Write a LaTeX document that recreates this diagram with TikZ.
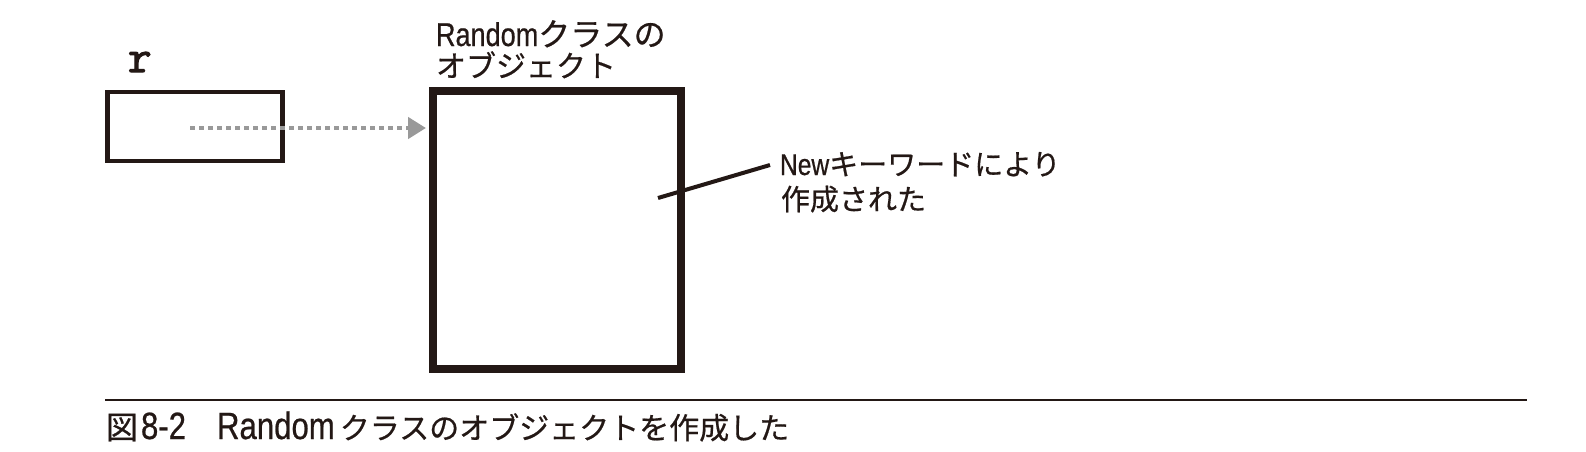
\documentclass[tikz,border=0pt]{standalone}
\usepackage{fontspec}
\setmainfont{Liberation Sans}
\newfontfamily\latn[FakeStretch=0.82,FakeBold=0.6]{Liberation Sans}
\newfontfamily\jpn[FakeBold=0.6]{Noto Sans CJK JP}
\newfontfamily\monof[FakeBold=2.5]{Latin Modern Mono}
\usetikzlibrary{arrows.meta}
\definecolor{ink}{HTML}{231815}
\definecolor{dotgray}{HTML}{999999}
\begin{document}
\begin{tikzpicture}[x=1pt,y=-1pt,
  varbox/.style={draw=ink, line width=4.5pt, minimum width=175pt, minimum height=69pt, inner sep=0pt, outer sep=0pt},
  objbox/.style={draw=ink, line width=8pt, minimum width=248pt, minimum height=277.5pt, inner sep=0pt, outer sep=0pt},
  lbl/.style={anchor=base west, inner sep=0pt, outer sep=0pt, text=ink},
  ref/.style={draw=dotgray, line width=4.5pt, dash pattern=on 4.5pt off 4.5pt, -{Triangle[length=18pt,width=21pt,fill=dotgray]}},
  callout/.style={draw=ink, line width=4pt},
  rulestyle/.style={draw=ink, line width=1.3pt}]
\useasboundingbox (0,0) rectangle (1586,451);
% variable box
\node[varbox] (var) at (195,126.25) {};
\node[lbl] (rlabel) at (128,72) {\monof\fontsize{46pt}{46pt}\selectfont r};
% object box
\node[objbox] (obj) at (557,229.75) {};
\node[lbl] (objl1) at (436,46) {\fontsize{33pt}{33pt}\selectfont{\latn Random}{\jpn\fontsize{32pt}{32pt}\selectfont クラスの}};
\node[lbl] (objl2) at (436,77) {\fontsize{30pt}{30pt}\selectfont\jpn オブジェクト};
% reference arrow
\coordinate (dstart) at (190,128);
\draw[ref, shorten >=7pt] (dstart) -- (obj.west |- dstart);
% callout
\coordinate (cin) at (658,198);
\coordinate (cout) at (770,165);
\draw[callout] (cin) -- (cout);
\node[lbl] (note1) at (780,175) {\fontsize{30pt}{30pt}\selectfont{\latn New}{\jpn\fontsize{29pt}{29pt}\selectfont キーワードにより}};
\node[lbl] (note2) at (781,210) {\fontsize{29pt}{29pt}\selectfont\jpn 作成された};
% rule and caption
\coordinate (rulel) at (105,400);
\coordinate (ruler) at (1527,400);
\draw[rulestyle] (rulel) -- (ruler);
\node[lbl] (caption) at (106,439) {\fontsize{38pt}{38pt}\selectfont{\jpn\fontsize{32pt}{32pt}\selectfont 図}\hspace{3pt}{\latn 8-2}{\jpn\fontsize{31pt}{31pt}\selectfont 　}{\latn Random}\hspace{5pt}{\jpn\fontsize{30pt}{30pt}\selectfont クラスのオブジェクトを作成した}};
\end{tikzpicture}
\end{document}
